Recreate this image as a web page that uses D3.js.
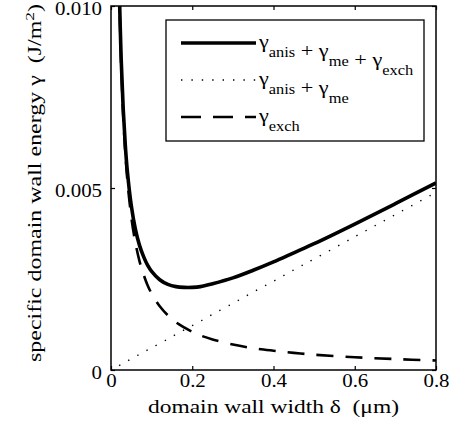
<!DOCTYPE html>
<html>
<head>
<meta charset="utf-8">
<script src="https://cdn.jsdelivr.net/npm/d3@7"></script>
<style>
  body { margin: 0; background: #fff; }
  text { font-family: "Liberation Serif", "Times New Roman", serif; fill: #000; }
</style>
</head>
<body>
<div id="chart"></div>
<script>
// values
var delta = [0.02, 0.025, 0.03, 0.035, 0.04, 0.05, 0.06, 0.07, 0.08, 0.09, 0.1, 0.12, 0.14, 0.16, 0.18,
  0.2, 0.22, 0.25, 0.3, 0.35, 0.4, 0.45, 0.5, 0.6, 0.7, 0.8];
var gammaExch = [0.0105, 0.0084, 0.0070, 0.0060, 0.00525, 0.0042, 0.0035, 0.0030, 0.00263, 0.00233, 0.0021,
  0.00175, 0.0015, 0.00131, 0.00117, 0.00105, 0.00095, 0.00084, 0.0007, 0.0006, 0.00053, 0.00047, 0.00042,
  0.00035, 0.0003, 0.00026];
var gammaAnisMe = [0.00012, 0.00015, 0.00018, 0.00021, 0.00024, 0.00031, 0.00037, 0.00043, 0.00049, 0.00055,
  0.00061, 0.00073, 0.00085, 0.00098, 0.0011, 0.00122, 0.00134, 0.00153, 0.00183, 0.00214, 0.00244, 0.00275,
  0.00305, 0.00366, 0.00427, 0.00488];
var gammaTotal = [0.01062, 0.00855, 0.00718, 0.00621, 0.00549, 0.00451, 0.00387, 0.00343, 0.00312, 0.00288,
  0.00271, 0.00248, 0.00235, 0.00229, 0.00227, 0.00227, 0.00229, 0.00237, 0.00253, 0.00274, 0.00297, 0.00322,
  0.00347, 0.00401, 0.00457, 0.00514];
var xTicks = [0, 0.2, 0.4, 0.6, 0.8];
var yTicks = [0, 0.005, 0.010];
var yTickLabels = ["0", "0.005", "0.010"];

var margin = {top: 6, right: 16, bottom: 69, left: 111},
    width = 452 - margin.left - margin.right,
    height = 439 - margin.top - margin.bottom;

var xScale = d3.scaleLinear().domain([0, 0.8]).range([0, width]);
var yScale = d3.scaleLinear().domain([0, 0.01]).range([height, 0]);

var svg = d3.select("#chart").append("svg")
    .attr("width", 452)
    .attr("height", 439);

var g = svg.append("g")
    .attr("transform", "translate(" + margin.left + "," + margin.top + ")");

g.append("clipPath").attr("id", "clip")
  .append("rect").attr("width", width).attr("height", height);

// the reference typeface runs wider than Liberation Serif, so stretch texts along their direction
function stretch(sel, factor) {
  sel.each(function() {
    var len = this.getComputedTextLength();
    d3.select(this).attr("textLength", len * factor).attr("lengthAdjust", "spacingAndGlyphs");
  });
}

function series(vals) {
  return delta.map(function(d, i) { return [d, vals[i]]; });
}

var line = d3.line()
    .x(function(d) { return xScale(d[0]); })
    .y(function(d) { return yScale(d[1]); })
    .curve(d3.curveCatmullRom.alpha(0.5));

var plot = g.append("g").attr("clip-path", "url(#clip)");

plot.append("path")
    .datum(series(gammaAnisMe))
    .attr("d", line)
    .attr("fill", "none")
    .attr("stroke", "#000")
    .attr("stroke-width", 1.4)
    .attr("stroke-dasharray", "1.4,9");

plot.append("path")
    .datum(series(gammaExch))
    .attr("d", line)
    .attr("fill", "none")
    .attr("stroke", "#000")
    .attr("stroke-width", 2.6)
    .attr("stroke-dasharray", "17,12");

plot.append("path")
    .datum(series(gammaTotal))
    .attr("d", line)
    .attr("fill", "none")
    .attr("stroke", "#000")
    .attr("stroke-width", 3.6);

// axes, ticks inward on all four sides
var tickLen = 4;
var xAxis = g.append("g").attr("transform", "translate(0," + height + ")")
  .call(d3.axisBottom(xScale).tickValues(xTicks).tickSizeInner(-tickLen).tickSizeOuter(0)
    .tickPadding(4).tickFormat(function(d) { return d === 0 ? "0" : d3.format(".1f")(d); }));
var xAxisTop = g.append("g")
  .call(d3.axisTop(xScale).tickValues(xTicks).tickSizeInner(-tickLen).tickSizeOuter(0).tickFormat(""));
var yAxis = g.append("g")
  .call(d3.axisLeft(yScale).tickValues(yTicks).tickSizeInner(-tickLen).tickSizeOuter(0)
    .tickPadding(9).tickFormat(function(d, i) { return yTickLabels[i]; }));
var yAxisRight = g.append("g").attr("transform", "translate(" + width + ",0)")
  .call(d3.axisRight(yScale).tickValues(yTicks).tickSizeInner(-tickLen).tickSizeOuter(0).tickFormat(""));

g.selectAll(".domain").remove();
g.selectAll(".tick line").attr("stroke", "#000").attr("stroke-width", 1.2);
g.selectAll(".tick text").style("font-family", "Liberation Serif").style("font-size", "18px").attr("fill", "#000");
yAxis.selectAll(".tick text").attr("dy", "0.45em");
stretch(g.selectAll(".tick text"), 1.16);

g.append("rect")
    .attr("width", width)
    .attr("height", height)
    .attr("fill", "none")
    .attr("stroke", "#000")
    .attr("stroke-width", 1.5);

// axis labels
g.append("text")
    .attr("x", width / 2)
    .attr("y", height + 43)
    .attr("text-anchor", "middle")
    .attr("xml:space", "preserve")
    .style("font-size", "18px")
    .attr("textLength", 251)
    .attr("lengthAdjust", "spacingAndGlyphs")
    .text("domain wall width \u03b4  (\u03bcm)");

var yLab = svg.append("text")
    .attr("transform", "translate(41,183) rotate(-90)")
    .attr("text-anchor", "middle")
    .attr("xml:space", "preserve")
    .attr("textLength", 358)
    .attr("lengthAdjust", "spacingAndGlyphs")
    .style("font-size", "18px");
yLab.append("tspan").text("specific domain wall energy \u03b3  (J/m");
yLab.append("tspan").attr("baseline-shift", "super").style("font-size", "13px").text("2");
yLab.append("tspan").text(")");

// legend
var legend = svg.append("g");
legend.append("rect")
    .attr("x", 166).attr("y", 20)
    .attr("width", 258).attr("height", 121)
    .attr("fill", "#fff")
    .attr("stroke", "#000")
    .attr("stroke-width", 1.3);

var legendItems = [
  {parts: [["\u03b3", "anis"], [" + \u03b3", "me"], [" + \u03b3", "exch"]], width: 3.6, dash: null},
  {parts: [["\u03b3", "anis"], [" + \u03b3", "me"]], width: 1.4, dash: "1.4,9"},
  {parts: [["\u03b3", "exch"]], width: 2.6, dash: "20,12"}
];

legendItems.forEach(function(item, i) {
  var y = 43 + i * 37;
  legend.append("line")
      .attr("x1", 181).attr("x2", 256)
      .attr("y1", y).attr("y2", y)
      .attr("stroke", "#000")
      .attr("stroke-width", item.width)
      .attr("stroke-dasharray", item.dash);
  var t = legend.append("text")
      .attr("x", 259).attr("y", y + 5)
      .attr("xml:space", "preserve")
      .style("font-size", "19px");
  item.parts.forEach(function(p) {
    t.append("tspan").attr("dy", 0).text(p[0]);
    t.append("tspan").attr("dy", 9).style("font-size", "14px").text(p[1]);
    t.append("tspan").attr("dy", -9).text("");
  });
  stretch(t, 1.17);
});
</script>
</body>
</html>
